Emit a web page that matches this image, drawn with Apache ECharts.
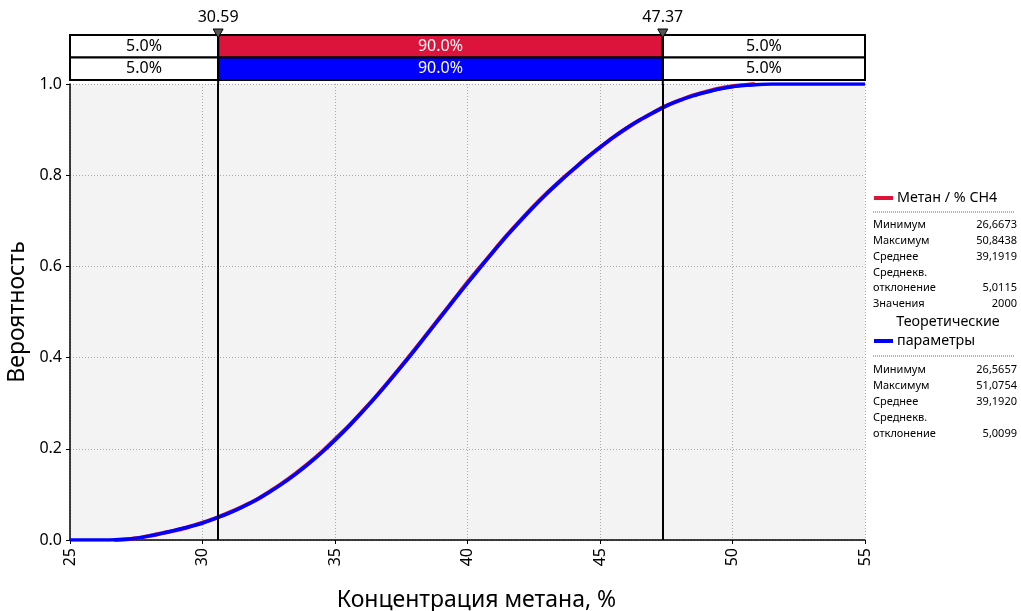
<!DOCTYPE html>
<html><head><meta charset="utf-8">
<script src="https://cdn.jsdelivr.net/npm/echarts@6/dist/echarts.min.js"></script>
<style>html,body{margin:0;padding:0;background:#fff}#c{width:1021px;height:611px}</style>
</head><body><div id="c"></div>
<script>
const FONT = 'Noto Sans';

// Theoretical CDF (blue)
const theoX = [25,26,26.5,27,27.5,28,28.5,29,29.5,30,30.5,31,31.5,32,32.5,33,33.5,34,34.5,35,35.5,36,36.5,37,37.5,38,38.5,39,39.5,40,40.5,41,41.5,42,42.5,43,43.5,44,44.5,45,45.5,46,46.5,47,47.5,48,48.5,49,49.5,50,50.5,51,51.5,55];
const theoY = [0,0,0,0.001,0.004,0.009,0.015,0.022,0.029,0.037,0.048,0.059,0.072,0.087,0.104,0.123,0.144,0.167,0.192,0.219,0.248,0.279,0.311,0.345,0.380,0.416,0.453,0.490,0.527,0.563,0.599,0.634,0.668,0.700,0.731,0.760,0.787,0.813,0.838,0.861,0.883,0.903,0.921,0.937,0.952,0.964,0.974,0.982,0.989,0.994,0.997,0.999,1.0,1.0];

// Empirical CDF (red)
const empX = [26.67,27,27.5,28,28.5,29,29.5,30,30.5,31,31.5,32,32.5,33,33.5,34,34.5,35,35.5,36,36.5,37,37.5,38,38.5,39,39.5,40,40.5,41,41.5,42,42.5,43,43.5,44,44.5,45,45.5,46,46.5,47,47.5,48,48.5,49,49.5,50,50.5,50.84];
const empY = [0,0.001,0.004,0.009,0.015,0.021,0.029,0.038,0.048,0.060,0.073,0.087,0.105,0.124,0.145,0.168,0.193,0.221,0.249,0.280,0.312,0.346,0.381,0.417,0.454,0.491,0.528,0.565,0.600,0.635,0.669,0.701,0.732,0.761,0.788,0.813,0.838,0.861,0.883,0.903,0.921,0.937,0.952,0.964,0.975,0.983,0.990,0.995,0.998,1.0];

const cutValues = [30.59, 47.37];
const cutLabels = ['30.59', '47.37'];
const bandShares = ['5.0%', '90.0%', '5.0%'];
const rowColors = ['#dc143c', '#0000ff'];

const legendName1 = 'Метан / % CH4';
const stats1Labels = ['Минимум','Максимум','Среднее','Среднекв.','отклонение','Значения'];
const stats1Values = ['26,6673','50,8438','39,1919','','5,0115','2000'];
const legendName2a = 'Теоретические';
const legendName2b = 'параметры';
const stats2Labels = ['Минимум','Максимум','Среднее','Среднекв.','отклонение'];
const stats2Values = ['26,5657','51,0754','39,1920','','5,0099'];

const X_MIN = 25, X_MAX = 55;
const bounds = [X_MIN, ...cutValues, X_MAX];
const bandData = [];
for (let r = 0; r < 2; r++) for (let s = 0; s < 3; s++) bandData.push([bounds[s], bounds[s+1], r, s]);

const chart = echarts.init(document.getElementById('c'));

const SF = '11px ' + FONT;
const LF = '14.3px ' + FONT;
const graphic = [];
graphic.push({type:'line', shape:{x1:874,y1:198,x2:893,y2:198}, style:{stroke:rowColors[0], lineWidth:4}});
graphic.push({type:'text', x:897, y:198, style:{text:legendName1, font:LF, fill:'#000', verticalAlign:'middle'}});
graphic.push({type:'line', shape:{x1:873,y1:212,x2:1015,y2:212}, style:{stroke:'#666', lineWidth:1, lineDash:[1,1]}});
stats1Labels.forEach((t,i)=>{
  const y = 225 + i*15.8;
  graphic.push({type:'text', x:873, y:y, style:{text:t, font:SF, fill:'#000', verticalAlign:'middle'}});
  if (stats1Values[i]) graphic.push({type:'text', x:1017, y:y, style:{text:stats1Values[i], font:SF, fill:'#000', verticalAlign:'middle', align:'right'}});
});
graphic.push({type:'text', x:948, y:322, style:{text:legendName2a, font:LF, fill:'#000', verticalAlign:'middle', align:'center'}});
graphic.push({type:'line', shape:{x1:874,y1:341,x2:893,y2:341}, style:{stroke:rowColors[1], lineWidth:4}});
graphic.push({type:'text', x:897, y:341, style:{text:legendName2b, font:LF, fill:'#000', verticalAlign:'middle'}});
graphic.push({type:'line', shape:{x1:873,y1:356,x2:1015,y2:356}, style:{stroke:'#666', lineWidth:1, lineDash:[1,1]}});
stats2Labels.forEach((t,i)=>{
  const y = 370 + i*16;
  graphic.push({type:'text', x:873, y:y, style:{text:t, font:SF, fill:'#000', verticalAlign:'middle'}});
  if (stats2Values[i]) graphic.push({type:'text', x:1017, y:y, style:{text:stats2Values[i], font:SF, fill:'#000', verticalAlign:'middle', align:'right'}});
});

const option = {
  animation: false,
  textStyle: {fontFamily: FONT},
  graphic: graphic,
  grid: [
    {left:70, right:156, top:84, bottom:71, show:true, backgroundColor:'#f3f3f3', borderWidth:0, containLabel:false, outerBoundsMode:'none'},
    {left:70, right:156, top:35, height:45, show:false, containLabel:false, outerBoundsMode:'none'}
  ],
  xAxis: [
    {type:'value', gridIndex:0, min:X_MIN, max:X_MAX, interval:5,
     name:'Концентрация метана, %', nameLocation:'middle', nameGap:49,
     nameTextStyle:{fontSize:23, color:'#000', fontFamily:FONT, padding:[0,0,0,18]},
     axisLine:{show:true, lineStyle:{color:'#000', width:1.5}},
     axisTick:{show:true, length:4, lineStyle:{color:'#000'}},
     axisLabel:{rotate:90, fontSize:16, color:'#000', margin:8, fontFamily:FONT},
     splitLine:{show:true, lineStyle:{color:'#aaa', type:[1,2], width:1}}},
    {type:'value', gridIndex:1, min:X_MIN, max:X_MAX, show:false}
  ],
  yAxis: [
    {type:'value', gridIndex:0, min:0, max:1, interval:0.2,
     name:'Вероятность', nameLocation:'middle', nameGap:36,
     nameTextStyle:{fontSize:23, color:'#000', fontFamily:FONT},
     axisLine:{show:true, lineStyle:{color:'#000', width:1.5}},
     axisTick:{show:true, length:4, lineStyle:{color:'#000'}},
     axisLabel:{fontSize:16, color:'#000', margin:8, fontFamily:FONT, formatter:v=>v.toFixed(1)},
     splitLine:{show:true, lineStyle:{color:'#aaa', type:[1,2], width:1}}},
    {type:'value', gridIndex:1, min:0, max:2, show:false}
  ],
  series: [
    {type:'line', xAxisIndex:0, yAxisIndex:0, data: empX.map((x,i)=>[x, empY[i]]),
     showSymbol:false, smooth:0.3, lineStyle:{color:rowColors[0], width:4}, z:3},
    {type:'line', xAxisIndex:0, yAxisIndex:0, data: theoX.map((x,i)=>[x, theoY[i]]),
     showSymbol:false, smooth:0.3, lineStyle:{color:rowColors[1], width:3.5}, z:4,
     markLine:{silent:true, symbol:'none', label:{show:false}, lineStyle:{color:'#000', width:2, type:'solid'},
       data: cutValues.map(v=>({xAxis:v}))}},
    {type:'custom', xAxisIndex:1, yAxisIndex:1, data: bandData, z:5,
     renderItem:(params, api)=>{
       const x0 = api.value(0), x1 = api.value(1), r = api.value(2), s = api.value(3);
       const p0 = api.coord([x0, 2 - r]);
       const p1 = api.coord([x1, 1 - r]);
       const mid = s === 1;
       return {type:'rect', shape:{x:p0[0], y:p0[1], width:p1[0]-p0[0], height:p1[1]-p0[1]},
         style:{fill: mid ? rowColors[r] : '#fff', stroke:'#000', lineWidth:2},
         textContent:{style:{text: bandShares[s], fill: mid ? '#fff' : '#000', font:'16px '+FONT}},
         textConfig:{position:'inside'}};
     }},
    {type:'custom', xAxisIndex:1, yAxisIndex:1, data: cutValues.map(v=>[v]), z:6,
     renderItem:(params, api)=>{
       const p = api.coord([api.value(0), 2]);
       const bottom = params.coordSys.y + params.coordSys.height + 5;
       return {type:'group', children:[
         {type:'line', shape:{x1:p[0], y1:p[1], x2:p[0], y2:bottom}, style:{stroke:'#000', lineWidth:2}},
         {type:'polygon', shape:{points:[[p[0]-5, p[1]-6],[p[0]+5, p[1]-6],[p[0], p[1]+3]]}, style:{fill:'#555', stroke:'#000', lineWidth:1}},
         {type:'text', x:p[0], y:p[1]-18, style:{text: cutLabels[params.dataIndex], font:'16px '+FONT, fill:'#000', align:'center', verticalAlign:'middle'}}
       ]};
     }}
  ]
};
chart.setOption(option);
</script>
</body></html>
